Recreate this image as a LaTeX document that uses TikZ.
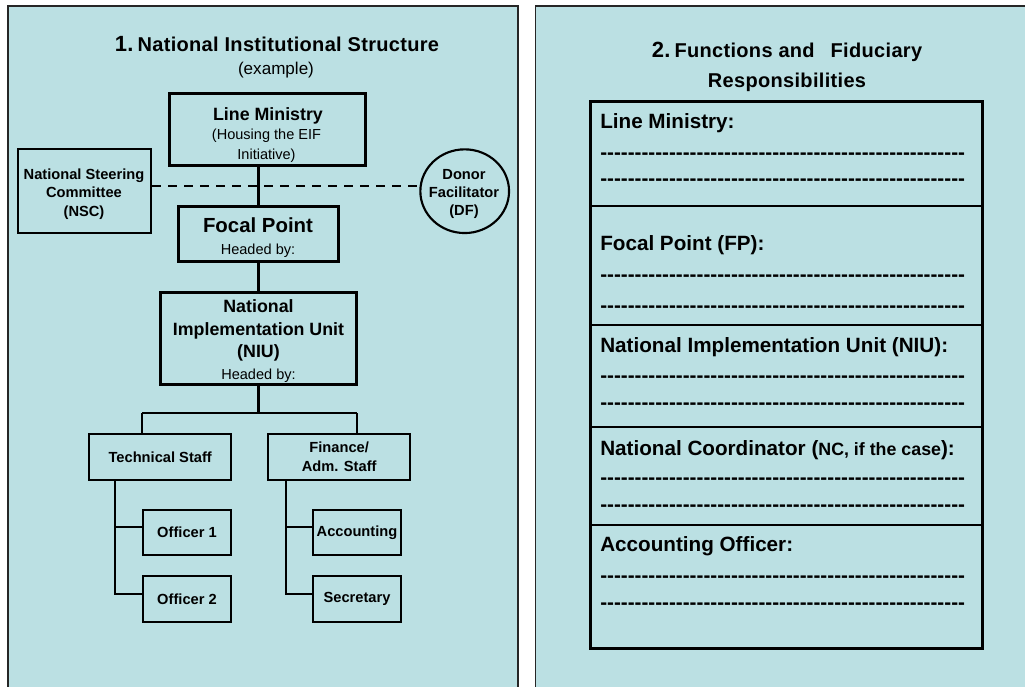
\documentclass[tikz,border=0pt]{standalone}
\usepackage{fontspec}
\newfontfamily\arial{Liberation Sans}
\newfontfamily\arialsp{Liberation Sans}[LetterSpace=1.6]
\usetikzlibrary{shapes.geometric}
\definecolor{panelblue}{HTML}{BBE0E3}
\newcommand\dashrow{\foreach\k in {1,...,53}{-}}
\begin{document}
\begin{tikzpicture}[x=0.75pt,y=-0.75pt,
  wh/.style 2 args={minimum width=#1*0.75pt, minimum height=#2*0.75pt},
  panel/.style={fill=panelblue, draw=black!85, line width=1pt},
  thickbox/.style={draw, line width=2.5pt, inner sep=0pt},
  medbox/.style={draw, line width=1.6pt, inner sep=0pt, align=center},
  conn/.style={line width=1.6pt},
  dashln/.style={line width=1.6pt, dash pattern=on 6.75pt off 5.25pt},
  divline/.style={line width=1.3pt},
  txt/.style={inner sep=0pt, align=center},
  b11/.style={font=\arial\bfseries\fontsize{11}{13.7}\selectfont},
  bfin/.style={font=\arial\bfseries\fontsize{11}{14.25}\selectfont},
  r11/.style={font=\arial\fontsize{10.9}{14.5}\selectfont},
  b13/.style={font=\arial\bfseries\fontsize{13.35}{16.9}\selectfont},
  b15/.style={font=\arial\bfseries\fontsize{15.3}{18}\selectfont},
  hd/.style={anchor=base west, inner sep=0pt, font=\arial\bfseries\fontsize{15.5}{18}\selectfont}
]
\clip (0,0) rectangle (1025,686);
\fill[white] (0,0) rectangle (1025,686);
% panels
\draw[panel] (8,6) rectangle (518,720);
\draw[panel] (535.5,6) rectangle (1045,720);

% ---------- left panel ----------
\node[txt, anchor=base] (title1) at (277,51)
  {\arialsp\bfseries\fontsize{16.5}{18}\selectfont 1.\hspace{3pt}\fontsize{15}{17}\selectfont National Institutional Structure};
\node[txt, anchor=base] (example) at (276,74.5) {\arial\fontsize{12.8}{14}\selectfont (example)};

\node[thickbox, wh={196}{72}] (lm) at (267.5,129.5) {};
\node[txt, anchor=base, b13] (lmt) at (268,120.3) {Line Ministry};
\node[txt, r11] (lms) at (266.5,145.8) {(Housing the EIF\\Initiative)};

\node[medbox, wh={133}{84}] (nsc) at (84.5,191) {};
\node[txt, b11] (nsct) at (84,194.2) {National Steering\\Committee\\(NSC)};

\node[draw, ellipse, line width=1.6pt, inner sep=0pt, wh={88.7}{83.7}] (df) at (464.7,191.2) {};
\node[txt, b11] (dft) at (464,194.2) {Donor\\Facilitator\\(DF)};

\node[thickbox, wh={160}{55}] (fp) at (258.5,234) {};
\node[txt, anchor=base, b15] (fpt) at (258,232.5) {Focal Point};
\node[txt, anchor=base, r11] (fph) at (258,254) {Headed by:};

\node[thickbox, wh={196}{92}] (niu) at (258.5,338.5) {};
\node[txt, b13] (niut) at (258.5,330.8) {National\\Implementation Unit\\(NIU)};
\node[txt, anchor=base, r11] (niuh) at (258.5,379.3) {Headed by:};

\node[medbox, b11, wh={142.3}{46}] (tech) at (160.2,457) {Technical Staff};
\node[medbox, bfin, wh={142.3}{46}] (fin) at (339.2,457) {Finance/\\Adm. Staff};
\node[medbox, b11, wh={88.6}{45.6}] (off1) at (187,532.5) {Officer 1};
\node[medbox, b11, wh={88.6}{45.6}] (off2) at (187,598.8) {Officer 2};
\node[medbox, b11, wh={88.6}{45.6}] (acc) at (357,532.5) {Accounting};
\node[medbox, b11, wh={88.6}{45.6}] (sec) at (357,598.8) {Secretary};

% connectors
\draw[dashln] ([yshift=4pt]nsc.east) -- ([yshift=4pt]nsc.east -| df.west);
\draw[conn] (lm.south -| fp.north) -- (fp.north);
\draw[conn] (fp.south) -- (niu.north);
\coordinate (tj) at (142.3,413.3);
\coordinate (fj) at (357.3,413.3);
\draw[conn] (niu.south) -- (niu.south |- tj);
\draw[conn] (tj) -- (fj);
\draw[conn] (tj) -- (tj |- tech.north);
\draw[conn] (fj) -- (fj |- fin.north);
\path ([yshift=3.9pt]off1.west) coordinate (o1)
      ([yshift=3.6pt]off2.west) coordinate (o2)
      ([yshift=3.9pt]acc.west) coordinate (a1)
      ([yshift=3.6pt]sec.west) coordinate (s1);
\coordinate (tx) at (115.3,0);
\coordinate (fx) at (285.7,0);
\draw[conn] (tech.south -| tx) |- (o2);
\draw[conn] (tx |- o1) -- (o1);
\draw[conn] (fin.south -| fx) |- (s1);
\draw[conn] (fx |- a1) -- (a1);

% ---------- right panel ----------
\node[txt, anchor=base] (title2a) at (787,57.5)
  {\arialsp\bfseries\fontsize{16.5}{18}\selectfont 2.\hspace{3pt}\fontsize{15}{17}\selectfont Functions and\hspace{12pt}Fiduciary};
\node[txt, anchor=base] (title2b) at (787,87.5)
  {\arialsp\bfseries\fontsize{15}{17}\selectfont Responsibilities};

\node[draw, line width=2.3pt, inner sep=0pt, wh={392.3}{547}] (tbl) at (786.7,375) {};
\foreach \yy in {205.7,325,427.3,525}{
  \draw[divline] (tbl.west |- 0,\yy) -- (tbl.east |- 0,\yy);
}

\node[hd] (h1) at (600,128.5) {Line Ministry:};
\node[hd] (d1a) at (600,159.3) {\dashrow};
\node[hd] (d1b) at (600,185.3) {\dashrow};

\node[hd] (h2) at (600,250.7) {Focal Point (FP):};
\node[hd] (d2a) at (600,281.3) {\dashrow};
\node[hd] (d2b) at (600,312.6) {\dashrow};

\node[hd] (h3) at (600,352.7) {National Implementation Unit (NIU):};
\node[hd] (d3a) at (600,382) {\dashrow};
\node[hd] (d3b) at (600,409.3) {\dashrow};

\node[hd] (h4) at (600,455) {National Coordinator ({\fontsize{13.35}{16}\selectfont NC, if the case}):};
\node[hd] (d4a) at (600,484.3) {\dashrow};
\node[hd] (d4b) at (600,511) {\dashrow};

\node[hd] (h5) at (600,551.7) {Accounting Officer:};
\node[hd] (d5a) at (600,582.6) {\dashrow};
\node[hd] (d5b) at (600,609.3) {\dashrow};
\end{tikzpicture}
\end{document}
